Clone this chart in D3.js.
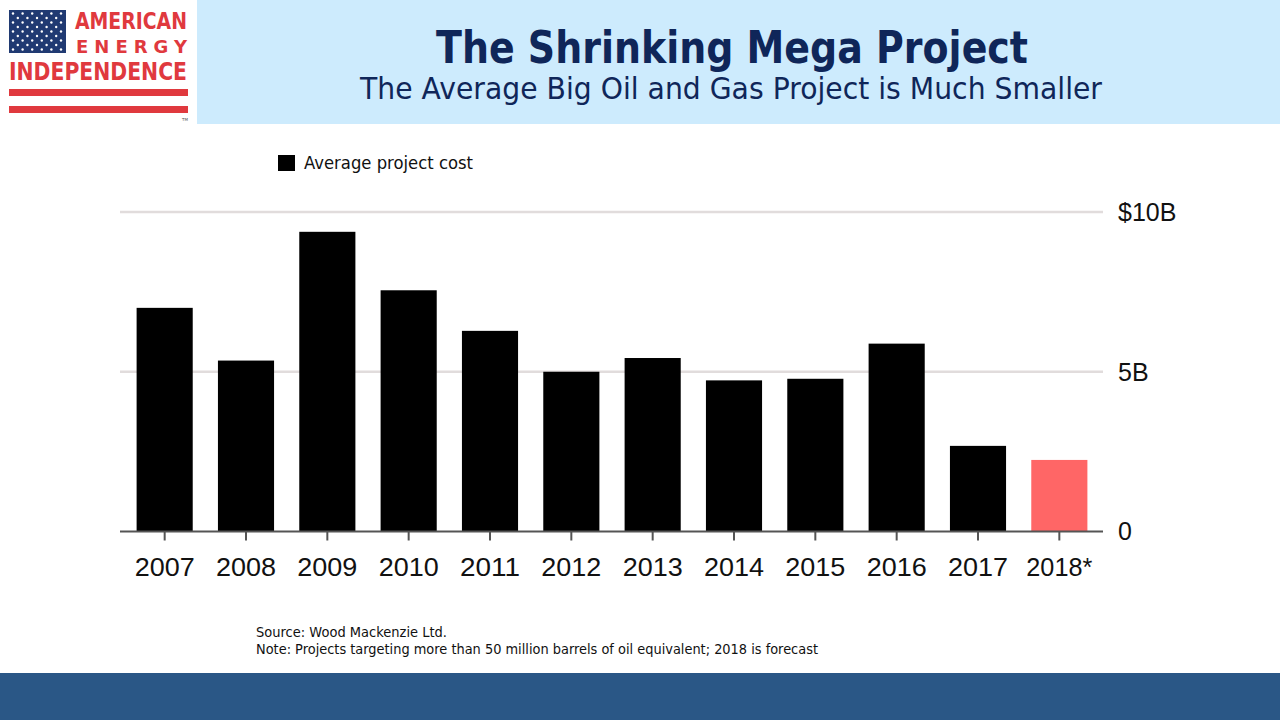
<!DOCTYPE html>
<html>
<head>
  <meta charset="utf-8">
  <title>The Shrinking Mega Project</title>
  <script src="https://d3js.org/d3.v7.min.js"></script>
  <style>
    body {
      margin: 0;
      padding: 0;
      background-color: white;
      overflow: hidden;
    }
  </style>
</head>
<body>
  <div id="chart"></div>

  <script>
    // chart data
    var years = ["2007", "2008", "2009", "2010", "2011", "2012", "2013", "2014", "2015", "2016", "2017", "2018*"];
    var avgCost = [7.0, 5.35, 9.38, 7.55, 6.28, 5.0, 5.43, 4.73, 4.78, 5.88, 2.68, 2.24];
    var forecast = [false, false, false, false, false, false, false, false, false, false, false, true];
    var yTicks = [0, 5, 10];
    var yTickLabels = ["0", "5B", "$10B"];

    var width = 1280,
        height = 720;

    var svg = d3.select("#chart")
      .append("svg")
        .attr("width", width)
        .attr("height", height);

    // header band
    svg.append("rect")
      .attr("x", 197).attr("y", 0)
      .attr("width", width - 197).attr("height", 124)
      .attr("fill", "#cdebfd");

    svg.append("text")
      .attr("x", 732).attr("y", 63)
      .attr("text-anchor", "middle")
      .attr("textLength", 592).attr("lengthAdjust", "spacingAndGlyphs")
      .style("font-family", "'DejaVu Sans', Verdana, sans-serif")
      .style("font-weight", "bold")
      .style("font-size", "44px")
      .style("fill", "#0f2659")
      .text("The Shrinking Mega Project");

    svg.append("text")
      .attr("x", 731).attr("y", 99)
      .attr("text-anchor", "middle")
      .attr("textLength", 742).attr("lengthAdjust", "spacingAndGlyphs")
      .style("font-family", "'DejaVu Sans', Verdana, sans-serif")
      .style("font-size", "31px")
      .style("fill", "#0f2659")
      .text("The Average Big Oil and Gas Project is Much Smaller");

    // logo
    var logo = svg.append("g");
    logo.append("rect")
      .attr("x", 9).attr("y", 10).attr("width", 57).attr("height", 43)
      .attr("fill", "#203a72");
    for (var r = 0; r < 9; r++) {
      var n = r % 2 === 0 ? 6 : 5;
      for (var c = 0; c < n; c++) {
        logo.append("circle")
          .attr("cx", 13 + c * 9.6 + (r % 2 === 0 ? 0 : 4.8))
          .attr("cy", 13.5 + r * 4.5)
          .attr("r", 1.2)
          .attr("fill", "white");
      }
    }
    var logoRed = "#e0393e";
    logo.append("text")
      .attr("x", 75).attr("y", 29)
      .attr("textLength", 112).attr("lengthAdjust", "spacingAndGlyphs")
      .style("font-family", "'DejaVu Sans', sans-serif").style("font-weight", "bold")
      .style("font-size", "23px").style("fill", logoRed)
      .text("AMERICAN");
    logo.append("text")
      .attr("x", 76).attr("y", 53)
      .attr("textLength", 111).attr("lengthAdjust", "spacing")
      .style("font-family", "'DejaVu Sans', sans-serif").style("font-weight", "bold")
      .style("font-size", "18px").style("fill", logoRed)
      .text("ENERGY");
    logo.append("text")
      .attr("x", 9).attr("y", 80)
      .attr("textLength", 178).attr("lengthAdjust", "spacingAndGlyphs")
      .style("font-family", "'DejaVu Sans', sans-serif").style("font-weight", "bold")
      .style("font-size", "24px").style("fill", logoRed)
      .text("INDEPENDENCE");
    logo.append("rect").attr("x", 9).attr("y", 89).attr("width", 179).attr("height", 7).attr("fill", logoRed);
    logo.append("rect").attr("x", 9).attr("y", 106).attr("width", 179).attr("height", 7).attr("fill", logoRed);
    logo.append("text")
      .attr("x", 182).attr("y", 121)
      .style("font-family", "'DejaVu Sans', sans-serif")
      .style("font-size", "4px").style("fill", "#555")
      .text("TM");

    // scales
    var x = d3.scaleBand()
      .domain(years)
      .range([124, 1100])
      .paddingInner(0.31)
      .paddingOuter(0.155);

    var y = d3.scaleLinear()
      .domain([0, 10])
      .range([531.5, 212]);

    // gridlines
    svg.append("g")
      .selectAll("line")
      .data(yTicks.filter(function(d) { return d > 0; }))
      .enter().append("line")
        .attr("x1", 120).attr("x2", 1103)
        .attr("y1", function(d) { return y(d); })
        .attr("y2", function(d) { return y(d); })
        .attr("stroke", "#e1dcdc")
        .attr("stroke-width", 2.5);

    // bars
    svg.append("g")
      .selectAll("rect")
      .data(avgCost)
      .enter().append("rect")
        .attr("x", function(d, i) { return x(years[i]); })
        .attr("y", function(d) { return y(d); })
        .attr("width", x.bandwidth())
        .attr("height", function(d) { return y(0) - y(d); })
        .attr("fill", function(d, i) { return forecast[i] ? "#ff6666" : "#000"; });

    // x axis
    var xAxis = svg.append("g")
      .attr("transform", "translate(0," + y(0) + ")")
      .call(d3.axisBottom(x).tickSize(9).tickSizeOuter(0).tickPadding(18));
    xAxis.select(".domain").remove();
    xAxis.selectAll(".tick line").attr("stroke", "#555").attr("stroke-width", 2);
    xAxis.selectAll(".tick text")
      .attr("fill", "#111")
      .style("font-family", "'Liberation Sans', Arial, sans-serif")
      .style("font-size", "25px")
      .attr("textLength", function(d) { return d.length > 4 ? 66 : 60; })
      .attr("lengthAdjust", "spacingAndGlyphs");

    svg.append("line")
      .attr("x1", 120).attr("x2", 1103)
      .attr("y1", y(0)).attr("y2", y(0))
      .attr("stroke", "#555")
      .attr("stroke-width", 2);

    // y axis labels on the right
    svg.append("g")
      .selectAll("text")
      .data(yTicks)
      .enter().append("text")
        .attr("x", 1118)
        .attr("y", function(d) { return y(d); })
        .attr("dy", "0.35em")
        .style("font-family", "'Liberation Sans', Arial, sans-serif")
        .style("font-size", "25px")
        .style("fill", "#111")
        .text(function(d, i) { return yTickLabels[i]; });

    // legend
    svg.append("rect")
      .attr("x", 278).attr("y", 155)
      .attr("width", 17).attr("height", 16)
      .attr("fill", "#000");
    svg.append("text")
      .attr("x", 304).attr("y", 169)
      .style("font-family", "'DejaVu Sans', Verdana, sans-serif")
      .style("font-size", "17px")
      .style("fill", "#111")
      .attr("textLength", 169).attr("lengthAdjust", "spacingAndGlyphs")
      .text("Average project cost");

    // source notes
    svg.append("text")
      .attr("x", 256).attr("y", 637)
      .style("font-family", "'DejaVu Sans', Verdana, sans-serif")
      .style("font-size", "14px")
      .style("fill", "#111")
      .attr("textLength", 191).attr("lengthAdjust", "spacingAndGlyphs")
      .text("Source: Wood Mackenzie Ltd.");
    svg.append("text")
      .attr("x", 256).attr("y", 654)
      .style("font-family", "'DejaVu Sans', Verdana, sans-serif")
      .style("font-size", "14px")
      .style("fill", "#111")
      .attr("textLength", 562).attr("lengthAdjust", "spacingAndGlyphs")
      .text("Note: Projects targeting more than 50 million barrels of oil equivalent; 2018 is forecast");

    // footer band
    svg.append("rect")
      .attr("x", 0).attr("y", 673)
      .attr("width", width).attr("height", height - 673)
      .attr("fill", "#2a5786");
  </script>
</body>
</html>
